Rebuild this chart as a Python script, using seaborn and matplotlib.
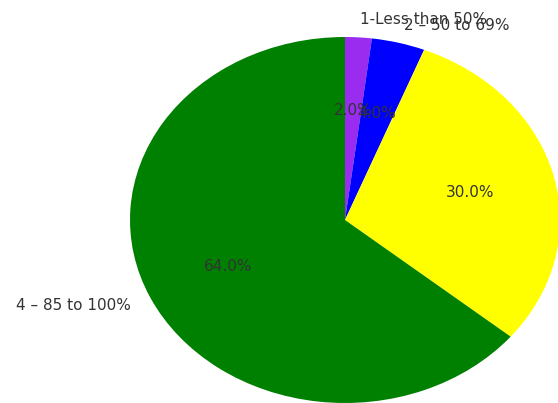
import numpy as np
import pandas as pd
import matplotlib
matplotlib.use('Agg')
import matplotlib.pyplot as plt
import seaborn as sns

# Dados das fatias (o rótulo da fatia amarela fica fora da imagem original)
categorias = ['1-Less than 50%', '2 – 50 to 69%', '', '4 – 85 to 100%']
valores = [2, 4, 30, 64]
cores = ['#9a2cf0', 'blue', 'yellow', 'green']

sns.set_style('white')

fig = plt.figure(figsize=(5.58, 4.03), dpi=100)
ax = fig.add_axes([130 / 558, 0, 430 / 558, 366 / 403])
ax.pie(valores, labels=categorias, colors=cores, autopct='%1.1f%%',
       startangle=90, counterclock=False,
       wedgeprops={'linewidth': 0},
       textprops={'fontsize': 11, 'color': '#333333'})
ax.set_aspect('auto')
ax.set_xlim(-1, 1)
ax.set_ylim(-1, 1)
ax.axis('off')

fig.savefig('out.png', dpi=100)
